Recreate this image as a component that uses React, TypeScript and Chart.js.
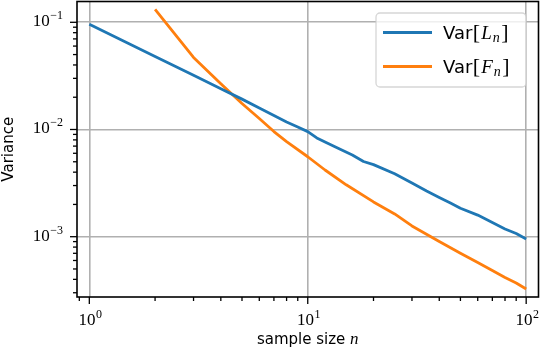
import React, { useEffect, useRef } from 'react';
import { Chart, registerables } from 'chart.js';

Chart.register(...registerables);

// ---- data ----
const nL = [1, 2, 3, 4, 5, 6, 7, 8, 9, 10, 11, 12, 14, 16, 18, 20, 25, 30, 35, 40, 45, 50, 60, 70, 80, 90, 100];
const varL = [0.0957, 0.048, 0.0321, 0.024, 0.0192, 0.0159, 0.0135, 0.01175, 0.01054, 0.00955, 0.00834, 0.00764, 0.00657, 0.00578, 0.00503, 0.0047, 0.00386, 0.00317, 0.00267, 0.00232, 0.00206, 0.00184, 0.00159, 0.00136, 0.00118, 0.00107, 0.000953];
const nF = [2, 3, 4, 5, 6, 7, 8, 10, 12, 15, 20, 25, 30, 40, 50, 60, 70, 80, 90, 100];
const varF = [0.132, 0.047, 0.0267, 0.0175, 0.01268, 0.00957, 0.00772, 0.00557, 0.00419, 0.00305, 0.00211, 0.00163, 0.00126, 0.000902, 0.0007, 0.000574, 0.000484, 0.000416, 0.00037, 0.000325];

const seriesVar = ['L', 'F'];
const seriesColors = ['#1f77b4', '#ff7f0e'];
const xTicks = [1, 10, 100];
const yTicks = [0.001, 0.01, 0.1];
const xTitle = 'sample size ';
const xTitleVar = 'n';
const yTitle = 'Variance';

const X_MIN = Math.pow(10, -0.0564);
const X_MAX = Math.pow(10, 2.0564);
const Y_MIN = Math.pow(10, -3.5625);
const Y_MAX = Math.pow(10, -0.806);

const SERIF = '"Liberation Serif", "DejaVu Serif", serif';
const SANS = '"DejaVu Sans", "Liberation Sans", sans-serif';

type Part = { text: string; font: string; dy?: number; dx?: number };

function drawParts(ctx: CanvasRenderingContext2D, parts: Part[], x: number, y: number, align: 'left' | 'center' | 'right') {
  const widths = parts.map((p) => {
    ctx.font = p.font;
    return ctx.measureText(p.text).width + (p.dx || 0);
  });
  const total = widths.reduce((a, b) => a + b, 0);
  let cx = align === 'center' ? x - total / 2 : align === 'right' ? x - total : x;
  ctx.textAlign = 'left';
  ctx.textBaseline = 'alphabetic';
  parts.forEach((p, i) => {
    ctx.font = p.font;
    ctx.fillText(p.text, cx, y + (p.dy || 0));
    cx += widths[i];
  });
}

function expParts(v: number): Part[] {
  const e = Math.round(Math.log10(v));
  const s = e < 0 ? '\u2212' + Math.abs(e) : String(e);
  return [
    { text: '10', font: `17px ${SERIF}`, dx: 0.5 },
    { text: s, font: `12px ${SERIF}`, dy: -7 },
  ];
}

function logTicks(min: number, max: number) {
  const out: { v: number; major: boolean }[] = [];
  for (let d = Math.floor(Math.log10(min)); d <= Math.ceil(Math.log10(max)); d++) {
    for (let k = 1; k <= 9; k++) {
      const v = k * Math.pow(10, d);
      if (v >= min && v <= max) out.push({ v, major: k === 1 });
    }
  }
  return out;
}

const decorPlugin = {
  id: 'decor',
  afterDraw(chart: any) {
    const ctx: CanvasRenderingContext2D = chart.ctx;
    const { left, right, top, bottom } = chart.chartArea;
    const xs = chart.scales.x;
    const ys = chart.scales.y;
    ctx.save();
    // spines
    ctx.strokeStyle = '#000';
    ctx.lineWidth = 1.6;
    ctx.strokeRect(left, top, right - left, bottom - top);
    // tick marks
    ctx.lineWidth = 1.3;
    logTicks(X_MIN, X_MAX).forEach((t) => {
      const px = xs.getPixelForValue(t.v);
      ctx.beginPath();
      ctx.moveTo(px, bottom);
      ctx.lineTo(px, bottom + (t.major ? 7 : 4));
      ctx.stroke();
    });
    logTicks(Y_MIN, Y_MAX).forEach((t) => {
      const py = ys.getPixelForValue(t.v);
      ctx.beginPath();
      ctx.moveTo(left, py);
      ctx.lineTo(left - (t.major ? 7 : 4), py);
      ctx.stroke();
    });
    // tick labels
    ctx.fillStyle = '#000';
    xTicks.forEach((v) => {
      drawParts(ctx, expParts(v), xs.getPixelForValue(v) + 1, 325, 'center');
    });
    yTicks.forEach((v) => {
      drawParts(ctx, expParts(v), 63, ys.getPixelForValue(v) + 4, 'right');
    });
    // axis titles
    drawParts(
      ctx,
      [
        { text: xTitle, font: `15px ${SANS}` },
        { text: xTitleVar, font: `italic 17px ${SERIF}` },
      ],
      (left + right) / 2,
      344,
      'center'
    );
    ctx.save();
    ctx.translate(13, (top + bottom) / 2);
    ctx.rotate(-Math.PI / 2);
    drawParts(ctx, [{ text: yTitle, font: `15px ${SANS}` }], 0, 0, 'center');
    ctx.restore();
    // legend
    const bx = 376, by = 13, bw = 150, bh = 74, r = 4;
    ctx.beginPath();
    ctx.moveTo(bx + r, by);
    ctx.arcTo(bx + bw, by, bx + bw, by + bh, r);
    ctx.arcTo(bx + bw, by + bh, bx, by + bh, r);
    ctx.arcTo(bx, by + bh, bx, by, r);
    ctx.arcTo(bx, by, bx + bw, by, r);
    ctx.closePath();
    ctx.fillStyle = 'rgba(255,255,255,0.8)';
    ctx.fill();
    ctx.strokeStyle = 'rgba(204,204,204,0.8)';
    ctx.lineWidth = 1.3;
    ctx.stroke();
    seriesVar.forEach((name, i) => {
      const ly = 32.5 + i * 34;
      ctx.strokeStyle = seriesColors[i];
      ctx.lineWidth = 3;
      ctx.lineCap = 'butt';
      ctx.beginPath();
      ctx.moveTo(383, ly);
      ctx.lineTo(432, ly);
      ctx.stroke();
      ctx.fillStyle = '#000';
      drawParts(
        ctx,
        [
          { text: 'Var', font: `18px ${SANS}`, dx: 0.5 },
          { text: '[', font: `22px ${SERIF}`, dx: 1 },
          { text: name, font: `italic 19px ${SERIF}`, dx: 1 },
          { text: 'n', font: `italic 14px ${SERIF}`, dy: 3, dx: 1.5 },
          { text: ']', font: `22px ${SERIF}` },
        ],
        443,
        ly + 6.5,
        'left'
      );
    });
    ctx.restore();
  },
};

export default function App() {
  const ref = useRef<HTMLCanvasElement | null>(null);
  useEffect(() => {
    if (!ref.current) return;
    const chart = new Chart(ref.current, {
      type: 'line',
      data: {
        datasets: [
          {
            label: 'Var[L_n]',
            data: nL.map((n, i) => ({ x: n, y: varL[i] })),
            borderColor: seriesColors[0],
            borderWidth: 2.8,
            pointRadius: 0,
            tension: 0,
            fill: false,
            borderJoinStyle: 'round',
          },
          {
            label: 'Var[F_n]',
            data: nF.map((n, i) => ({ x: n, y: varF[i] })),
            borderColor: seriesColors[1],
            borderWidth: 2.8,
            pointRadius: 0,
            tension: 0,
            fill: false,
            borderJoinStyle: 'round',
          },
        ],
      },
      options: {
        responsive: false,
        animation: false,
        devicePixelRatio: 1,
        layout: { padding: { left: 0, right: 1.5, top: 1.5, bottom: 0 } },
        plugins: { legend: { display: false }, tooltip: { enabled: false } },
        scales: {
          x: {
            type: 'logarithmic',
            position: 'bottom',
            min: X_MIN,
            max: X_MAX,
            afterBuildTicks: (s: any) => {
              s.ticks = xTicks.map((v) => ({ value: v }));
            },
            afterFit: (s: any) => {
              s.height = 55;
            },
            ticks: { display: false },
            grid: { color: '#b0b0b0', lineWidth: 1.6, drawTicks: false },
            border: { display: false },
          },
          y: {
            type: 'logarithmic',
            position: 'left',
            min: Y_MIN,
            max: Y_MAX,
            afterBuildTicks: (s: any) => {
              s.ticks = yTicks.map((v) => ({ value: v }));
            },
            afterFit: (s: any) => {
              s.width = 77;
            },
            ticks: { display: false },
            grid: { color: '#b0b0b0', lineWidth: 1.6, drawTicks: false },
            border: { display: false },
          },
        },
      } as any,
      plugins: [decorPlugin],
    });
    return () => chart.destroy();
  }, []);
  return (
    <div style={{ position: 'fixed', left: 0, top: 0, width: 540, height: 352, background: '#fff' }}>
      <canvas ref={ref} width={540} height={352} style={{ display: 'block', width: 540, height: 352 }} />
    </div>
  );
}
